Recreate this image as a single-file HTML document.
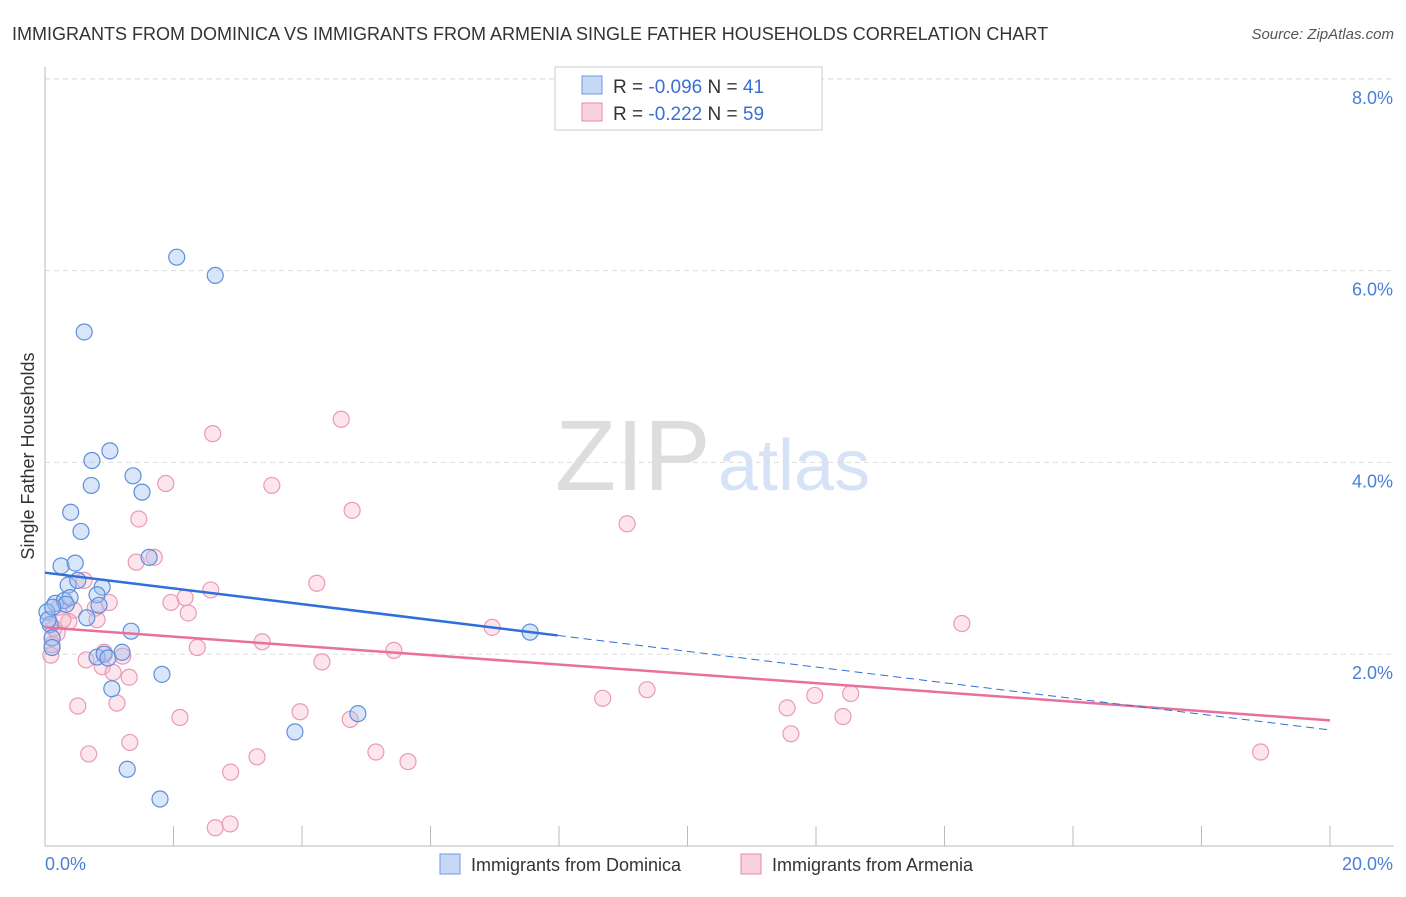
<!DOCTYPE html>
<html><head><meta charset="utf-8"><style>
body{margin:0;background:#fff;font-family:"Liberation Sans",sans-serif}
svg text{font-family:"Liberation Sans",sans-serif}
</style></head><body>
<svg width="1406" height="892" viewBox="0 0 1406 892">
<text x="12" y="40" font-size="18" fill="#333">IMMIGRANTS FROM DOMINICA VS IMMIGRANTS FROM ARMENIA SINGLE FATHER HOUSEHOLDS CORRELATION CHART</text>
<text x="1394" y="39" font-size="15" fill="#555" font-style="italic" text-anchor="end">Source: ZipAtlas.com</text>
<g>
<text x="555" y="490" font-size="100" fill="#ddd" font-family="Liberation Serif">ZIP</text>
<text x="718" y="490" font-size="72" fill="#d6e2f5">atlas</text>
</g>
<g id="grid"></g><g id="axes"></g><g id="pts"></g><g id="trend"></g>
<text x="34" y="456" font-size="18" fill="#333" text-anchor="middle" transform="rotate(-90 34 456)">Single Father Households</text>
<g>
<rect x="555" y="67" width="267" height="63" fill="#fff" stroke="#ccc"/>
<rect x="582" y="76" width="20" height="18" fill="rgba(160,190,240,0.6)" stroke="#6b9ae0"/>
<rect x="582" y="103" width="20" height="18" fill="rgba(245,180,200,0.6)" stroke="#e88aa8"/>
<text x="613" y="93" font-size="19" fill="#333">R = <tspan fill="#3b6fd4">-0.096</tspan>   N = <tspan fill="#3b6fd4">41</tspan></text>
<text x="613" y="120" font-size="19" fill="#333">R =  <tspan fill="#3b6fd4">-0.222</tspan>   N = <tspan fill="#3b6fd4">59</tspan></text>
</g>
<g>
<rect x="440" y="854" width="20" height="20" fill="rgba(160,190,240,0.6)" stroke="#6b9ae0"/>
<text x="471" y="871" font-size="18" fill="#333">Immigrants from Dominica</text>
<rect x="741" y="854" width="20" height="20" fill="rgba(245,180,200,0.6)" stroke="#e88aa8"/>
<text x="772" y="871" font-size="18" fill="#333">Immigrants from Armenia</text>
</g>
</svg>
<script>
const yTicks=[2,4,6,8];
const yTickLabels=["2.0%","4.0%","6.0%","8.0%"];
const xTickLabels=["0.0%","20.0%"];
const blueX=[2.05,2.65,0.61,1.01,0.73,0.72,1.37,1.51,0.40,0.56,1.62,0.25,0.47,0.36,0.51,0.89,0.81,0.16,0.30,0.39,0.84,0.65,0.03,0.08,1.34,0.11,0.11,1.20,0.81,0.92,0.98,1.04,1.82,3.89,4.87,1.28,1.79,7.55,0.05,0.33,0.12];
const blueY=[6.14,5.95,5.36,4.12,4.02,3.76,3.86,3.69,3.48,3.28,3.01,2.92,2.95,2.72,2.77,2.70,2.62,2.53,2.56,2.59,2.51,2.38,2.44,2.31,2.24,2.17,2.07,2.02,1.97,2.00,1.96,1.64,1.79,1.19,1.38,0.80,0.49,2.23,2.36,2.52,2.49];
const pinkX=[4.61,2.61,3.53,1.88,4.78,1.46,9.06,1.70,1.42,4.23,2.58,2.18,1.96,1.00,2.23,0.61,0.78,0.22,0.45,0.81,0.37,0.14,0.19,6.96,14.27,3.38,2.37,5.43,0.92,0.09,4.31,0.64,1.21,0.89,1.06,1.31,9.37,8.68,11.98,12.54,0.51,1.12,3.97,2.10,4.75,11.55,12.42,1.32,0.68,5.15,3.30,11.61,5.65,18.92,2.89,2.65,2.88,0.28,0.11];
const pinkY=[4.45,4.30,3.76,3.78,3.50,3.41,3.36,3.01,2.96,2.74,2.67,2.59,2.54,2.54,2.43,2.77,2.48,2.49,2.46,2.36,2.34,2.27,2.22,2.28,2.32,2.13,2.07,2.04,2.02,1.99,1.92,1.94,1.98,1.87,1.81,1.76,1.63,1.54,1.57,1.59,1.46,1.49,1.40,1.34,1.32,1.44,1.35,1.08,0.96,0.98,0.93,1.17,0.88,0.98,0.77,0.19,0.23,2.36,2.10];
const blueTrend=[2.85,-0.082,7.98];
const pinkTrend=[2.28,-0.0485];
const NS="http://www.w3.org/2000/svg";
const X0=45,X1=1330,Y0=846,YS=95.9;
const sx=v=>X0+(X1-X0)*v/20, sy=v=>Y0-v*YS;
function mk(p,t,a){const e=document.createElementNS(NS,t);for(const k in a)e.setAttribute(k,a[k]);document.getElementById(p).appendChild(e);return e;}
let g=mk('grid','line',{x1:45,x2:1394,y1:79,y2:79,stroke:'#ddd','stroke-dasharray':'5,4'});


yTicks.forEach((v,i)=>{
 const l=mk('grid','line',{x1:45,x2:1394,y1:sy(v),y2:sy(v),stroke:'#ddd','stroke-dasharray':'5,4'});
 
 
 const t=mk('grid','text',{x:1393,y:sy(v)+25,'font-size':18,fill:'#4a7fd6','text-anchor':'end'});
 t.textContent=yTickLabels[i];
 
 
});
let a=mk('axes','line',{x1:45,x2:45,y1:67,y2:846,stroke:'#bbb'});


a=mk('axes','line',{x1:45,x2:1394,y1:846,y2:846,stroke:'#bbb'});


for(let i=1;i<=10;i++){const t=mk('axes','line',{x1:sx(i*2),x2:sx(i*2),y1:826,y2:846,stroke:'#bbb'});
 
 }
let xl=mk('axes','text',{x:45,y:870,'font-size':18,fill:'#4a7fd6'});xl.textContent=xTickLabels[0];


xl=mk('axes','text',{x:1393,y:870,'font-size':18,fill:'#4a7fd6','text-anchor':'end'});xl.textContent=xTickLabels[1];


pinkX.forEach((v,i)=>{const c=mk('pts','circle',{cx:sx(v),cy:sy(pinkY[i]),r:8,fill:'rgba(245,180,200,0.35)',stroke:'#eb9ab3','stroke-width':1.2});
 
 });
blueX.forEach((v,i)=>{const c=mk('pts','circle',{cx:sx(v),cy:sy(blueY[i]),r:8,fill:'rgba(160,190,240,0.4)',stroke:'#5e8fdc','stroke-width':1.2});
 
 });
let t=mk('trend','line',{x1:sx(0),y1:sy(pinkTrend[0]),x2:sx(20),y2:sy(pinkTrend[0]+pinkTrend[1]*20),stroke:'#e8709a','stroke-width':2.5});


t=mk('trend','line',{x1:sx(0),y1:sy(blueTrend[0]),x2:sx(blueTrend[2]),y2:sy(blueTrend[0]+blueTrend[1]*blueTrend[2]),stroke:'#2f6fd8','stroke-width':2.5});


t=mk('trend','line',{x1:sx(blueTrend[2]),y1:sy(blueTrend[0]+blueTrend[1]*blueTrend[2]),x2:sx(20),y2:sy(blueTrend[0]+blueTrend[1]*20),stroke:'#2f6fd8','stroke-width':1,'stroke-dasharray':'8,5'});


</script>
</body></html>
